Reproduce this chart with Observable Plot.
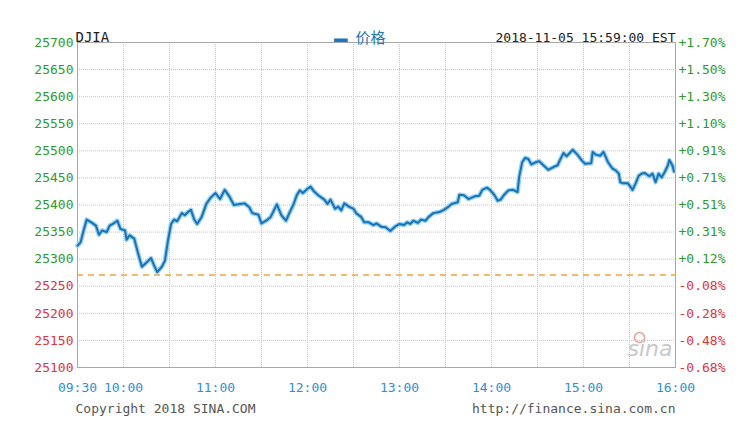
<!DOCTYPE html>
<html>
<head>
<meta charset="utf-8">
<script src="https://cdn.jsdelivr.net/npm/d3@7"></script>
<script src="https://cdn.jsdelivr.net/npm/@observablehq/plot@0.6"></script>
<style>
  html, body { margin: 0; padding: 0; background: #fff; }
</style>
</head>
<body>
<div id="chart"></div>
<script>
const times = [
  "09:30","09:32","09:34","09:36","09:39","09:42","09:44","09:46","09:49","09:51","09:53","09:56","09:58",
  "10:01","10:02","10:04","10:07","10:09","10:12","10:15","10:18","10:20","10:22","10:25","10:27","10:29",
  "10:31","10:33","10:35","10:38","10:40","10:42","10:44","10:46","10:48","10:51","10:54","10:57",
  "11:00","11:03","11:06","11:09","11:12","11:16","11:19","11:22","11:24","11:28","11:30","11:33","11:36","11:40",
  "11:43","11:46","11:48","11:51","11:53","11:55","11:57",
  "12:00","12:02","12:04","12:07","12:11","12:13","12:15","12:18","12:20","12:22","12:24","12:27","12:30",
  "12:32","12:35","12:37","12:40","12:43","12:45","12:48","12:51","12:54","12:57",
  "13:00","13:03","13:05","13:07","13:09","13:12","13:14","13:17","13:19","13:22","13:26","13:29","13:32",
  "13:34","13:38","13:39","13:42","13:45","13:49","13:52","13:54","13:57","13:59",
  "14:02","14:04","14:06","14:08","14:11","14:14","14:17","14:18","14:20","14:22","14:24","14:26","14:29",
  "14:31","14:34","14:37","14:41","14:43","14:45","14:47","14:49","14:51","14:53","14:56","14:59",
  "15:01","15:05","15:06","15:08","15:11","15:13","15:16","15:19","15:21","15:23","15:24","15:26","15:29",
  "15:32","15:34","15:36","15:38","15:40","15:43","15:45","15:47","15:49","15:51","15:53","15:55","15:56",
  "15:58","15:59"
];
const prices = [
  25325,25331,25353,25373,25368,25362,25345,25353,25350,25362,25365,25371,25356,
  25353,25336,25344,25338,25316,25286,25294,25302,25288,25276,25286,25297,25334,
  25365,25373,25370,25385,25381,25387,25391,25374,25365,25378,25402,25414,
  25422,25411,25428,25416,25400,25402,25403,25396,25385,25382,25366,25371,25378,25401,
  25381,25371,25384,25402,25418,25427,25422,
  25430,25434,25426,25418,25410,25402,25410,25393,25397,25390,25403,25397,25393,
  25384,25378,25368,25368,25363,25366,25360,25359,25352,25360,
  25365,25363,25368,25365,25371,25367,25373,25371,25378,25385,25387,25391,25397,
  25402,25405,25419,25418,25411,25416,25417,25428,25432,25428,
  25418,25408,25410,25418,25427,25428,25424,25451,25479,25487,25485,25475,25479,
  25481,25473,25465,25471,25473,25485,25496,25490,25496,25502,25493,25482,
  25476,25477,25498,25493,25491,25498,25479,25467,25464,25458,25442,25440,25440,
  25428,25440,25454,25458,25459,25453,25458,25442,25458,25451,25461,25473,25483,
  25473,25462
];
const prevClose = 25270.83;
const yTicks = [25100,25150,25200,25250,25300,25350,25400,25450,25500,25550,25600,25650,25700];
const xTickLabels = ["09:30","10:00","11:00","12:00","13:00","14:00","15:00","16:00"];
const gridTimes = ["09:30","10:00","10:30","11:00","11:30","12:00","12:30","13:00","13:30","14:00","14:30","15:00","15:30","16:00"];
const titleText = "DJIA";
const legendText = "价格";
const stampText = "2018-11-05 15:59:00 EST";
const copyrightText = "Copyright 2018 SINA.COM";
const urlText = "http://finance.sina.com.cn";
const watermarkText = "sina";

const parse = s => { const [h, m] = s.split(":").map(Number); return new Date(Date.UTC(2018, 10, 5, h, m)); };
const data = times.map((t, i) => ({t: parse(t), v: prices[i]}));
const green = "#2f9a2f", red = "#e0343c", blue = "#2f8fd3";
const pct = d => { const p = (d / prevClose - 1) * 100; return (p >= 0 ? "+" : "-") + Math.abs(p).toFixed(2) + "%"; };

const chart = Plot.plot({
  width: 750, height: 429,
  marginLeft: 77, marginRight: 75, marginTop: 42, marginBottom: 62,
  style: {fontFamily: "'DejaVu Sans Mono', 'Noto Sans CJK SC', monospace", fontSize: "13px", background: "#fff"},
  x: {type: "utc", domain: [parse("09:30"), parse("16:00")]},
  y: {domain: [25100, 25700]},
  marks: [
    Plot.gridX(gridTimes.map(parse), {stroke: "#c4c4c4", strokeOpacity: 1, strokeDasharray: "1,1"}),
    Plot.gridY(yTicks, {stroke: "#c4c4c4", strokeOpacity: 1, strokeDasharray: "1,1"}),
    Plot.frame({stroke: "#a8a8a8"}),
    Plot.ruleY([prevClose], {stroke: "#f2a53a", strokeDasharray: "6,5", strokeWidth: 1.5}),
    Plot.dot([watermarkText], {frameAnchor: "bottom-right", dx: -36, dy: -30, r: 5, stroke: "#eaa0a0", strokeWidth: 1.5, fill: "none"}),
    Plot.text([watermarkText], {text: d => d, frameAnchor: "bottom-right", textAnchor: "end", dx: -3, dy: -12, fill: "#c8c8c8", fontSize: 22, fontStyle: "italic", fontFamily: "'DejaVu Sans', sans-serif"}),
    Plot.lineY(data, {x: "t", y: "v", stroke: "#8fd2f3", strokeWidth: 4.5}),
    Plot.lineY(data, {x: "t", y: "v", stroke: "#1b70b6", strokeWidth: 2}),
    Plot.axisY(yTicks.filter(v => v >= prevClose), {anchor: "left", tickSize: 0, tickPadding: 4, fill: green, tickFormat: d => String(d), label: null}),
    Plot.axisY(yTicks.filter(v => v < prevClose), {anchor: "left", tickSize: 0, tickPadding: 4, fill: red, tickFormat: d => String(d), label: null}),
    Plot.axisY(yTicks.filter(v => v >= prevClose), {anchor: "right", tickSize: 0, tickPadding: 3, fill: green, tickFormat: pct, label: null}),
    Plot.axisY(yTicks.filter(v => v < prevClose), {anchor: "right", tickSize: 0, tickPadding: 3, fill: red, tickFormat: pct, label: null}),
    Plot.axisX(xTickLabels.map(parse), {anchor: "bottom", tickSize: 0, tickPadding: 15, fill: blue, tickFormat: d3.utcFormat("%H:%M"), label: null}),
    Plot.text([titleText], {text: d => d, frameAnchor: "top-left", dx: -2, dy: -10, textAnchor: "start", fill: "#222", fontSize: 14}),
    Plot.text(["━"], {text: d => d, frameAnchor: "top", dx: -36, dy: -10, fill: "#1b78c0", fontSize: 22, fontFamily: "'DejaVu Sans', sans-serif"}),
    Plot.text([legendText], {text: d => d, frameAnchor: "top", dx: -6, dy: -10, fill: "#1b78c0", fontSize: 15, fontFamily: "'Noto Sans CJK SC', sans-serif"}),
    Plot.text([stampText], {text: d => d, frameAnchor: "top-right", dy: -10, textAnchor: "end", fill: "#222", fontSize: 13}),
    Plot.text([copyrightText], {text: d => d, frameAnchor: "bottom-left", dx: -2, dy: 45, textAnchor: "start", fill: "#555", fontSize: 13}),
    Plot.text([urlText], {text: d => d, frameAnchor: "bottom-right", dy: 45, textAnchor: "end", fill: "#555", fontSize: 13})
  ]
});
document.getElementById("chart").appendChild(chart);
</script>
</body>
</html>
